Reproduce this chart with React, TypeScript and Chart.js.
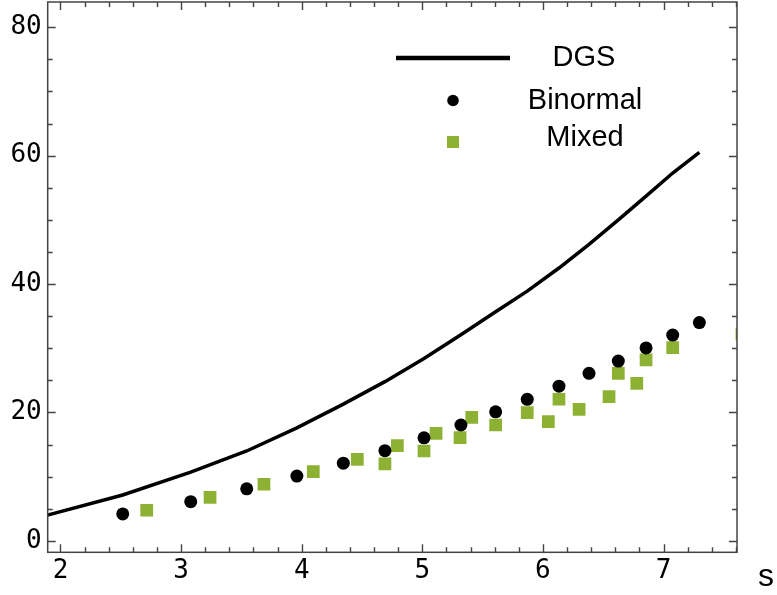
import { useEffect, useRef } from "react";
import { Chart, registerables } from "chart.js";

Chart.register(...registerables);

// ---- data ----
const binormalX = [2.516, 3.08, 3.544, 3.96, 4.345, 4.69, 5.014, 5.32, 5.608, 5.87, 6.133, 6.382, 6.625, 6.855, 7.076, 7.297];
const binormalY = [4.2, 6.1, 8.1, 10.1, 12.1, 14.05, 16.05, 18.05, 20.1, 22.05, 24.1, 26.1, 28.0, 30.05, 32.05, 34.0];

const mixedX = [2.715, 3.24, 3.687, 4.096, 4.461, 4.69, 4.793, 5.014, 5.114, 5.313, 5.41, 5.608, 5.87, 6.045, 6.133, 6.3, 6.548, 6.625, 6.778, 6.855, 7.076, 7.65];
const mixedY = [4.77, 6.79, 8.82, 10.78, 12.71, 11.98, 14.83, 14.0, 16.76, 16.07, 19.25, 18.05, 19.97, 18.57, 22.06, 20.5, 22.46, 26.1, 24.55, 28.18, 30.09, 32.2];

const dgsX = [1.85, 2.516, 3.08, 3.544, 3.96, 4.345, 4.69, 5.014, 5.32, 5.608, 5.87, 6.133, 6.382, 6.625, 6.855, 7.076, 7.297];
const dgsY = [3.8, 7.15, 10.7, 14.0, 17.6, 21.3, 24.8, 28.4, 32.1, 35.7, 38.9, 42.5, 46.2, 50.0, 53.7, 57.3, 60.5];

const xTicks = [2, 3, 4, 5, 6, 7];
const yTicks = [0, 20, 40, 60, 80];
const seriesNames = ["DGS", "Binormal", "Mixed"];
const xAxisLabel = "s";

const GREEN = "#8db233";
const FRAME = "#444444";

const framePlugin = {
  id: "frameTicks",
  afterDatasetsDraw(chart: any) {
    const { ctx, chartArea: a, scales } = chart;
    const xs = scales.x;
    const ys = scales.y;
    ctx.save();
    ctx.strokeStyle = FRAME;
    ctx.lineWidth = 1.4;
    ctx.beginPath();
    for (let i = 9; i <= 38; i++) {
      const v = i / 5;
      if (v < xs.min || v > xs.max) continue;
      const len = i % 5 === 0 ? 8 : 5;
      const px = Math.round(xs.getPixelForValue(v)) + 0.5;
      ctx.moveTo(px, a.bottom);
      ctx.lineTo(px, a.bottom - len);
      ctx.moveTo(px, a.top);
      ctx.lineTo(px, a.top + len);
    }
    for (let v = 0; v <= 85; v += 5) {
      if (v < ys.min || v > ys.max) continue;
      const len = v % 20 === 0 ? 8 : 5;
      const py = Math.round(ys.getPixelForValue(v)) + 0.5;
      ctx.moveTo(a.left, py);
      ctx.lineTo(a.left + len, py);
      ctx.moveTo(a.right, py);
      ctx.lineTo(a.right - len, py);
    }
    ctx.stroke();
    ctx.lineWidth = 1.5;
    ctx.strokeRect(a.left, a.top, a.right - a.left, a.bottom - a.top);

    ctx.fillStyle = "#000";
    ctx.font = "32px 'Liberation Sans'";
    ctx.textAlign = "center";
    ctx.textBaseline = "alphabetic";
    ctx.fillText(xAxisLabel, 766, 586);
    ctx.restore();
  },
};

const legendPlugin = {
  id: "customLegend",
  afterDatasetsDraw(chart: any) {
    const { ctx } = chart;
    const ds = chart.data.datasets;
    ctx.save();
    ctx.strokeStyle = ds[0].borderColor;
    ctx.lineWidth = 4.5;
    ctx.beginPath();
    ctx.moveTo(396, 58);
    ctx.lineTo(510, 58);
    ctx.stroke();
    ctx.fillStyle = ds[1].backgroundColor;
    ctx.beginPath();
    ctx.arc(453, 100.5, 5.8, 0, Math.PI * 2);
    ctx.fill();
    ctx.fillStyle = ds[2].backgroundColor;
    ctx.fillRect(447, 136, 12, 12);
    ctx.fillStyle = "#000";
    ctx.font = "29px 'Liberation Sans'";
    ctx.textAlign = "center";
    ctx.textBaseline = "middle";
    ctx.fillText(seriesNames[0], 584, 58);
    ctx.fillText(seriesNames[1], 585, 100.5);
    ctx.fillText(seriesNames[2], 585, 138);
    ctx.restore();
  },
};

export default function App() {
  const ref = useRef<HTMLCanvasElement | null>(null);

  useEffect(() => {
    if (!ref.current) return;
    const chart = new Chart(ref.current, {
      type: "scatter",
      data: {
        datasets: [
          {
            type: "line",
            label: seriesNames[0],
            data: dgsX.map((x, i) => ({ x, y: dgsY[i] })),
            borderColor: "#000000",
            backgroundColor: "#000000",
            borderWidth: 3.5,
            pointRadius: 0,
            tension: 0,
            fill: false,
          } as any,
          {
            label: seriesNames[1],
            data: binormalX.map((x, i) => ({ x, y: binormalY[i] })),
            backgroundColor: "#000000",
            borderWidth: 0,
            pointRadius: 6.5,
            pointStyle: "circle",
          },
          {
            label: seriesNames[2],
            data: mixedX.map((x, i) => ({ x, y: mixedY[i] })),
            backgroundColor: GREEN,
            borderWidth: 0,
            pointRadius: 9,
            pointStyle: "rect",
          },
        ],
      },
      options: {
        responsive: false,
        animation: false,
        devicePixelRatio: 1,
        layout: { autoPadding: false, padding: { left: 0, top: 2, right: 40, bottom: 0 } },
        plugins: {
          legend: { display: false },
          tooltip: { enabled: false },
        },
        scales: {
          x: {
            type: "linear",
            min: 1.894,
            max: 7.609,
            grid: { display: false, drawTicks: false },
            border: { display: false },
            afterBuildTicks: (s: any) => {
              s.ticks = xTicks.map((v) => ({ value: v }));
            },
            afterFit: (s: any) => {
              s.height = 42.7;
              s.paddingLeft = 0;
              s.paddingRight = 0;
            },
            ticks: {
              padding: 3,
              color: "#000",
              font: { family: "'DejaVu Sans Mono'", size: 26 },
              maxRotation: 0,
              autoSkip: false,
              callback: (v: any) => String(v),
            },
          },
          y: {
            type: "linear",
            min: -1.78,
            max: 83.94,
            grid: { display: false, drawTicks: false },
            border: { display: false },
            afterBuildTicks: (s: any) => {
              s.ticks = yTicks.map((v) => ({ value: v }));
            },
            afterFit: (s: any) => {
              s.width = 47.7;
              s.paddingTop = 0;
              s.paddingBottom = 0;
            },
            ticks: {
              padding: 6,
              color: "#000",
              font: { family: "'DejaVu Sans Mono'", size: 26 },
              autoSkip: false,
              callback: (v: any) => String(v),
            },
          },
        },
      },
      plugins: [framePlugin, legendPlugin],
    });
    return () => chart.destroy();
  }, []);

  return (
    <div style={{ position: "fixed", left: 0, top: 0, width: 777, height: 595, background: "#fff" }}>
      <canvas ref={ref} width={777} height={595} style={{ width: 777, height: 595, display: "block" }} />
    </div>
  );
}
